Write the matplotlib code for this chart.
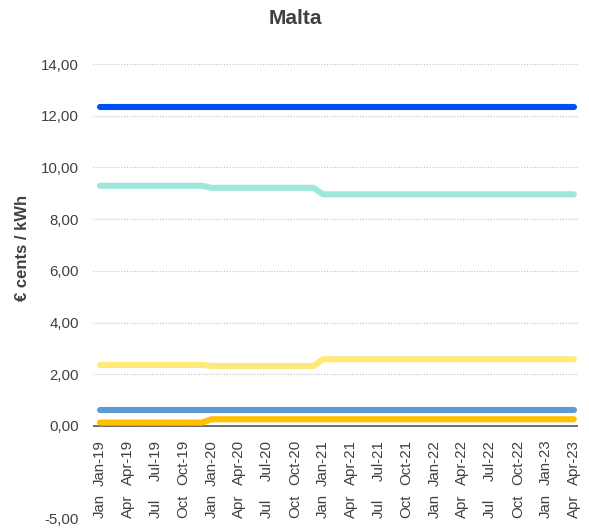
import numpy as np
import matplotlib
matplotlib.use('Agg')
import matplotlib.pyplot as plt

plt.rcParams['font.family'] = ['Liberation Sans', 'DejaVu Sans']

# months Jan-19 .. Apr-23 (52 points)
months = ['Jan', 'Feb', 'Mar', 'Apr', 'May', 'Jun', 'Jul', 'Aug', 'Sep', 'Oct', 'Nov', 'Dec']
dates = [f'{m}-{y}' for y in ['19', '20', '21', '22', '23'] for m in months][:52]

# values (€ cents / kWh)
s_dark_blue = [12.32] * 52
s_turquoise = [9.29] * 12 + [9.21] * 12 + [8.96] * 28
s_yellow = [2.36] * 12 + [2.32] * 12 + [2.58] * 28
s_mid_blue = [0.61] * 52
s_gold = [0.13] * 12 + [0.26] * 40

series = [
    (s_dark_blue, '#0050f0'),
    (s_turquoise, '#a0e6dc'),
    (s_yellow, '#ffe978'),
    (s_mid_blue, '#5b9bd5'),
    (s_gold, '#ffc000'),
]

y_ticks = [-5, 0, 2, 4, 6, 8, 10, 12, 14]

# Excel axis squeezes the negative part
k = 0.712
def fwd(y):
    y = np.asarray(y, dtype=float)
    return np.where(y >= 0, y, y * k)
def inv(y):
    y = np.asarray(y, dtype=float)
    return np.where(y >= 0, y, y / k)

fig = plt.figure(figsize=(5.89, 5.29), dpi=100)
ax = fig.add_axes([93 / 589, 1 - 518 / 529, 485 / 589, (518 - 64) / 529])
ax.set_yscale('function', functions=(fwd, inv))

x = np.arange(len(dates))
for vals, col in series:
    ax.plot(x, vals, color=col, linewidth=4.4, solid_capstyle='round', zorder=3)

ax.set_xlim(-0.75, 51.45)
ax.set_ylim(-5, 14)
ax.set_yticks(y_ticks)
ax.set_yticklabels([f'{v:.2f}'.replace('.', ',') for v in y_ticks], fontsize=10.8, color='#404040')
ax.yaxis.set_minor_locator(plt.NullLocator())
ax.tick_params(axis='y', length=0, pad=10)
ax.grid(axis='y', color='#bfbfbf', linestyle=(0, (1, 1.5)), linewidth=0.8)
ax.axhline(0, color='#595959', linewidth=1.2, zorder=2)

for sp in ax.spines.values():
    sp.set_visible(False)

# first row of date labels under the zero line
ax.set_xticks([])
lab_x = x[::3]
lab_txt = dates[::3]
for xi, t in zip(lab_x, lab_txt):
    ax.annotate(t, xy=(xi, 0), xytext=(0, -10), textcoords='offset points',
                rotation=90, ha='center', va='top', fontsize=10.8, color='#404040')

# second row: cut-off labels at the bottom axis
trans = ax.get_xaxis_transform()
for xi, t in zip(lab_x, lab_txt):
    ax.text(xi, 0.0, t.split('-')[0], transform=trans, rotation=90, ha='center',
            va='bottom', fontsize=10.8, color='#404040')

fig.text(23 / 589, 1 - 248 / 529, '€ cents / kWh', rotation=90, ha='center', va='center',
         fontsize=12, fontweight='bold', color='#404040')
fig.text(295 / 589, 1 - 18 / 529, 'Malta', ha='center', va='center',
         fontsize=15, fontweight='bold', color='#404040')

fig.savefig('out.png', dpi=100)
